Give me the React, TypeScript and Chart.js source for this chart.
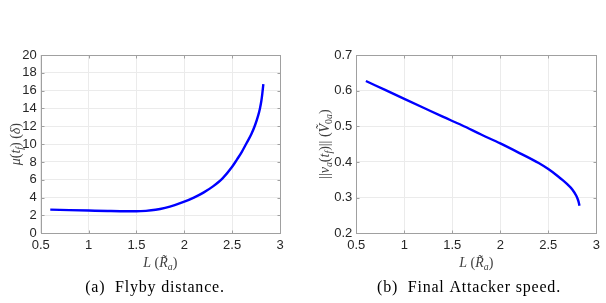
import React, { useEffect, useRef } from 'react';
import { Chart, registerables } from 'chart.js';

Chart.register(...registerables);

// (a) flyby distance vs. L
const flybyL = [0.6, 0.8, 1.0, 1.2, 1.4, 1.5, 1.6, 1.7, 1.8, 1.9, 2.0, 2.1, 2.2, 2.3, 2.4, 2.5, 2.55, 2.6, 2.65, 2.7, 2.74, 2.77, 2.79, 2.805, 2.815, 2.826];
const flybyMu = [2.65, 2.6, 2.55, 2.5, 2.47, 2.47, 2.52, 2.64, 2.86, 3.16, 3.54, 4.0, 4.56, 5.26, 6.16, 7.46, 8.27, 9.11, 10.1, 11.11, 12.15, 13.14, 13.98, 14.84, 15.64, 16.74];

// (b) final attacker speed vs. L
const speedL = [0.6, 0.8, 1.0, 1.2, 1.4, 1.6, 1.8, 2.0, 2.2, 2.4, 2.5, 2.6, 2.65, 2.7, 2.75, 2.79, 2.805, 2.815, 2.822, 2.825];
const speedV = [0.627, 0.602, 0.577, 0.552, 0.527, 0.503, 0.477, 0.452, 0.425, 0.397, 0.38, 0.36, 0.349, 0.337, 0.323, 0.306, 0.297, 0.289, 0.281, 0.277];

const lTicks = [0.5, 1, 1.5, 2, 2.5, 3];
const muTicks = [0, 2, 4, 6, 8, 10, 12, 14, 16, 18, 20];
const speedTicks = [0.2, 0.3, 0.4, 0.5, 0.6, 0.7];

type Seg = { t: string; it?: boolean; sub?: boolean };

const SERIF = '"Liberation Serif", "DejaVu Serif", serif';
const SANS = '"Liberation Sans", Arial, sans-serif';

const xTitle: Seg[] = [
  { t: 'L', it: true }, { t: ' (' }, { t: 'R\u0303', it: true }, { t: 'a', it: true, sub: true }, { t: ')' },
];
const muTitle: Seg[] = [
  { t: '\u03bc', it: true }, { t: '(' }, { t: 't', it: true }, { t: 'f', it: true, sub: true }, { t: ')' },
  { t: ' (' }, { t: '\u03b4', it: true }, { t: ')' },
];
const speedTitle: Seg[] = [
  { t: '||' }, { t: 'v', it: true }, { t: 'a', it: true, sub: true }, { t: '(' }, { t: 't', it: true },
  { t: 'f', it: true, sub: true }, { t: ')||' }, { t: ' (' }, { t: 'V\u0303', it: true },
  { t: '0', sub: true }, { t: 'a', it: true, sub: true }, { t: ')' },
];

function segFont(s: Seg, size: number) {
  const sz = s.sub ? size * 0.7 : size;
  return `${s.it ? 'italic ' : ''}${sz}px ${SERIF}`;
}

function drawMath(ctx: CanvasRenderingContext2D, segs: Seg[], cx: number, cy: number, size: number, rotated: boolean) {
  ctx.save();
  ctx.translate(cx, cy);
  if (rotated) ctx.rotate(-Math.PI / 2);
  let total = 0;
  for (const s of segs) {
    ctx.font = segFont(s, size);
    total += ctx.measureText(s.t).width;
  }
  ctx.fillStyle = '#404040';
  ctx.textBaseline = 'alphabetic';
  ctx.textAlign = 'left';
  let x = -total / 2;
  const base = size * 0.35;
  for (const s of segs) {
    ctx.font = segFont(s, size);
    ctx.fillText(s.t, x, base + (s.sub ? size * 0.22 : 0));
    x += ctx.measureText(s.t).width;
  }
  ctx.restore();
}

type FrameCfg = {
  xTicks: number[];
  yTicks: number[];
  yTitle: Seg[];
  yTitleX: number;
  caption: string;
  captionX: number;
};

function framePlugin(cfg: FrameCfg) {
  return {
    id: 'frame',
    afterDraw(chart: Chart) {
      const ctx = chart.ctx;
      const a = chart.chartArea;
      const xs = chart.scales.x;
      const ys = chart.scales.y;
      ctx.save();
      ctx.strokeStyle = '#a0a0a0';
      ctx.lineWidth = 1;
      const l = Math.round(a.left) + 0.5;
      const r = Math.round(a.right) + 0.5;
      const t = Math.round(a.top) + 0.5;
      const b = Math.round(a.bottom) + 0.5;
      ctx.strokeRect(l, t, r - l, b - t);
      ctx.beginPath();
      for (const v of cfg.xTicks) {
        const px = Math.round(xs.getPixelForValue(v)) + 0.5;
        ctx.moveTo(px, b); ctx.lineTo(px, b - 3);
        ctx.moveTo(px, t); ctx.lineTo(px, t + 3);
      }
      for (const v of cfg.yTicks) {
        const py = Math.round(ys.getPixelForValue(v)) + 0.5;
        ctx.moveTo(l, py); ctx.lineTo(l + 3, py);
        ctx.moveTo(r, py); ctx.lineTo(r - 3, py);
      }
      ctx.stroke();
      ctx.restore();

      drawMath(ctx, xTitle, (a.left + a.right) / 2, 262, 14, false);
      drawMath(ctx, cfg.yTitle, cfg.yTitleX, (a.top + a.bottom) / 2, 14, true);

      ctx.save();
      ctx.font = `16px ${SERIF}`;
      (ctx as any).letterSpacing = '0.8px';
      ctx.fillStyle = '#000';
      ctx.textAlign = 'center';
      ctx.textBaseline = 'alphabetic';
      ctx.fillText(cfg.caption, cfg.captionX, 292);
      ctx.restore();
    },
  };
}

function makeChart(
  canvas: HTMLCanvasElement,
  xs: number[],
  ys: number[],
  yTicks: number[],
  yWidth: number,
  rightPad: number,
  cfg: FrameCfg,
) {
  const points = xs.map((x, i) => ({ x, y: ys[i] }));
  return new Chart(canvas, {
    type: 'line',
    data: {
      datasets: [
        {
          data: points,
          borderColor: '#0000ff',
          borderWidth: 2.4,
          pointRadius: 0,
          fill: false,
          cubicInterpolationMode: 'monotone',
        },
      ],
    },
    options: {
      responsive: false,
      animation: false,
      events: [],
      layout: { padding: { left: 0, right: rightPad, top: 55, bottom: 0 } },
      plugins: { legend: { display: false }, tooltip: { enabled: false } },
      scales: {
        x: {
          type: 'linear',
          min: lTicks[0],
          max: lTicks[lTicks.length - 1],
          afterBuildTicks: (s: any) => { s.ticks = lTicks.map((v) => ({ value: v })); },
          afterFit: (s: any) => { s.height = 303 - 233.3; },
          grid: { color: '#ebebeb', drawTicks: false },
          border: { display: false },
          ticks: {
            padding: 4,
            autoSkip: false,
            color: '#262626',
            font: { family: SANS, size: 13 },
            callback: (v: any) => String(v),
            maxRotation: 0,
          },
        },
        y: {
          type: 'linear',
          min: yTicks[0],
          max: yTicks[yTicks.length - 1],
          afterBuildTicks: (s: any) => { s.ticks = yTicks.map((v) => ({ value: v })); },
          afterFit: (s: any) => { s.width = yWidth; },
          grid: { color: '#ebebeb', drawTicks: false },
          border: { display: false },
          ticks: {
            padding: 4,
            autoSkip: false,
            color: '#262626',
            font: { family: SANS, size: 13 },
            callback: (v: any) => String(Math.round(v * 100) / 100),
          },
        },
      },
    },
    plugins: [framePlugin(cfg)],
  } as any);
}

export default function App() {
  const leftRef = useRef<HTMLCanvasElement>(null);
  const rightRef = useRef<HTMLCanvasElement>(null);

  useEffect(() => {
    document.body.style.margin = '0';
    const c1 = makeChart(leftRef.current!, flybyL, flybyMu, muTicks, 40.7, 23, {
      xTicks: lTicks,
      yTicks: muTicks,
      yTitle: muTitle,
      yTitleX: 15,
      caption: '(a)  Flyby distance.',
      captionX: 155,
    });
    const c2 = makeChart(rightRef.current!, speedL, speedV, speedTicks, 53.3, 9.7, {
      xTicks: lTicks,
      yTicks: speedTicks,
      yTitle: speedTitle,
      yTitleX: 21,
      caption: '(b)  Final Attacker speed.',
      captionX: 166,
    });
    return () => {
      c1.destroy();
      c2.destroy();
    };
  }, []);

  return (
    <div style={{ position: 'absolute', left: 0, top: 0, width: 606, height: 303, background: '#fff', display: 'flex' }}>
      <canvas ref={leftRef} width={303} height={303} style={{ width: 303, height: 303 }} />
      <canvas ref={rightRef} width={303} height={303} style={{ width: 303, height: 303 }} />
    </div>
  );
}
